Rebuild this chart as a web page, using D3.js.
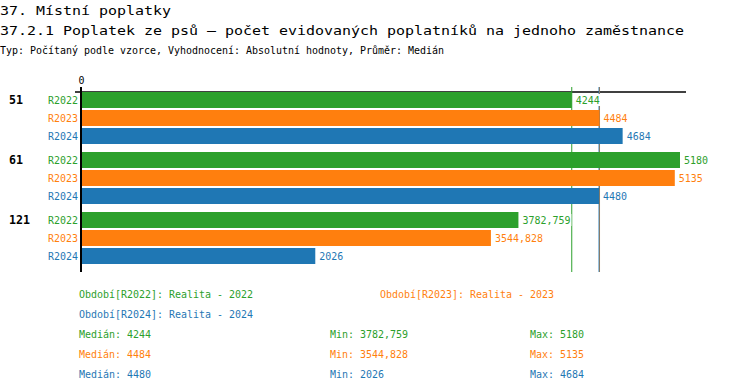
<!DOCTYPE html>
<html>
<head>
<meta charset="utf-8">
<script src="https://cdn.jsdelivr.net/npm/d3@7"></script>
<style>
  body { margin: 0; background: #fff; }
  svg { display: block; }
</style>
</head>
<body>
<div id="chart"></div>
<script>
const groups = ['51', '61', '121'];
const series = ['R2022', 'R2023', 'R2024'];
const seriesNames = ['Realita - 2022', 'Realita - 2023', 'Realita - 2024'];
const values2022 = [4244, 5180, 3782.759];
const values2023 = [4484, 5135, 3544.828];
const values2024 = [4684, 4480, 2026];
const colors = ['#2ca02c', '#ff7f0e', '#1f77b4'];

const allValues = [values2022, values2023, values2024];

const width = 750;
const height = 392;
const mono = '"DejaVu Sans Mono", monospace';

const fmt = (v) => String(+v.toFixed(3)).replace('.', ',');

// squeeze/stretch mono text to a fixed cell width
function cells(sel, size, cw) {
  sel.style('font-family', mono).style('font-size', size + 'px');
  sel.each(function () {
    const n = Array.from(this.textContent).length;
    d3.select(this).attr('textLength', n * cw).attr('lengthAdjust', 'spacingAndGlyphs');
  });
  return sel;
}

const svg = d3.select('#chart').append('svg')
  .attr('width', width)
  .attr('height', height);

// headings
svg.append('text').attr('x', 0).attr('y', 15)
  .text('37. Místní poplatky').call(cells, 12, 9);
svg.append('text').attr('x', 0).attr('y', 35)
  .text('37.2.1 Poplatek ze psů – počet evidovaných poplatníků na jednoho zaměstnance').call(cells, 12, 9);
svg.append('text').attr('x', 0).attr('y', 54)
  .text('Typ: Počítaný podle vzorce, Vyhodnocení: Absolutní hodnoty, Průměr: Medián').call(cells, 10, 6);

const x = d3.scaleLinear()
  .domain([0, d3.max(allValues.flat())])
  .range([81, 680]);

const yGroup = d3.scaleBand()
  .domain(groups)
  .range([92, 272])
  .padding(0);

const ySeries = d3.scaleBand()
  .domain(series)
  .range([0, 52])
  .paddingInner(2 / 18)
  .paddingOuter(0);

// top axis with the 0 label
const axis = svg.append('g')
  .attr('transform', 'translate(0,92)')
  .call(d3.axisTop(x).tickValues([0]).tickSize(0).tickPadding(8));
axis.select('.domain').remove();
axis.selectAll('text').attr('fill', '#000').call(cells, 10, 6);

svg.append('line')
  .attr('x1', x(0) - 6).attr('x2', x.range()[1] + 6)
  .attr('y1', 92).attr('y2', 92)
  .attr('stroke', '#000').attr('stroke-width', 1.5);

// median lines
series.forEach((s, i) => {
  const m = d3.median(allValues[i]);
  svg.append('line')
    .attr('x1', x(m)).attr('x2', x(m))
    .attr('y1', 87).attr('y2', 272)
    .attr('stroke', colors[i]).attr('stroke-width', 1);
});

// bars
groups.forEach((g, gi) => {
  const gy = yGroup(g);

  svg.append('text')
    .attr('x', 9)
    .attr('y', gy + ySeries('R2022') + ySeries.bandwidth() / 2 + 4)
    .style('font-weight', 'bold')
    .text(g).call(cells, 11.5, 7);

  series.forEach((s, si) => {
    const v = allValues[si][gi];
    const by = gy + ySeries(s);

    svg.append('rect')
      .attr('x', x(0))
      .attr('y', by)
      .attr('width', x(v) - x(0))
      .attr('height', ySeries.bandwidth())
      .attr('fill', colors[si]);

    svg.append('text')
      .attr('x', 78)
      .attr('y', by + ySeries.bandwidth() / 2 + 4)
      .attr('text-anchor', 'end')
      .attr('fill', colors[si])
      .text(s).call(cells, 10, 6);

    const label = fmt(v);
    svg.append('rect')
      .attr('x', x(v) + 3)
      .attr('y', by + 2)
      .attr('width', label.length * 6 + 2)
      .attr('height', ySeries.bandwidth() - 4)
      .attr('fill', '#fff');

    svg.append('text')
      .attr('x', x(v) + 4)
      .attr('y', by + ySeries.bandwidth() / 2 + 4)
      .attr('fill', colors[si])
      .text(label).call(cells, 10, 6);
  });
});

// vertical axis line
svg.append('line')
  .attr('x1', x(0)).attr('x2', x(0))
  .attr('y1', 87).attr('y2', 272)
  .attr('stroke', '#000').attr('stroke-width', 2);

// legend
const legendPos = [[79, 298], [380, 298], [79, 318]];
series.forEach((s, i) => {
  svg.append('text')
    .attr('x', legendPos[i][0]).attr('y', legendPos[i][1])
    .attr('fill', colors[i])
    .text(`Období[${s}]: ${seriesNames[i]}`).call(cells, 11, 6);
});

// stats
series.forEach((s, i) => {
  const vals = allValues[i];
  const yy = 338 + i * 20;
  const stats = [
    [79, 'Medián: ' + fmt(d3.median(vals))],
    [330, 'Min: ' + fmt(d3.min(vals))],
    [530, 'Max: ' + fmt(d3.max(vals))],
  ];
  stats.forEach(([sx, t]) => {
    svg.append('text')
      .attr('x', sx).attr('y', yy)
      .attr('fill', colors[i])
      .text(t).call(cells, 11, 6);
  });
});
</script>
</body>
</html>
